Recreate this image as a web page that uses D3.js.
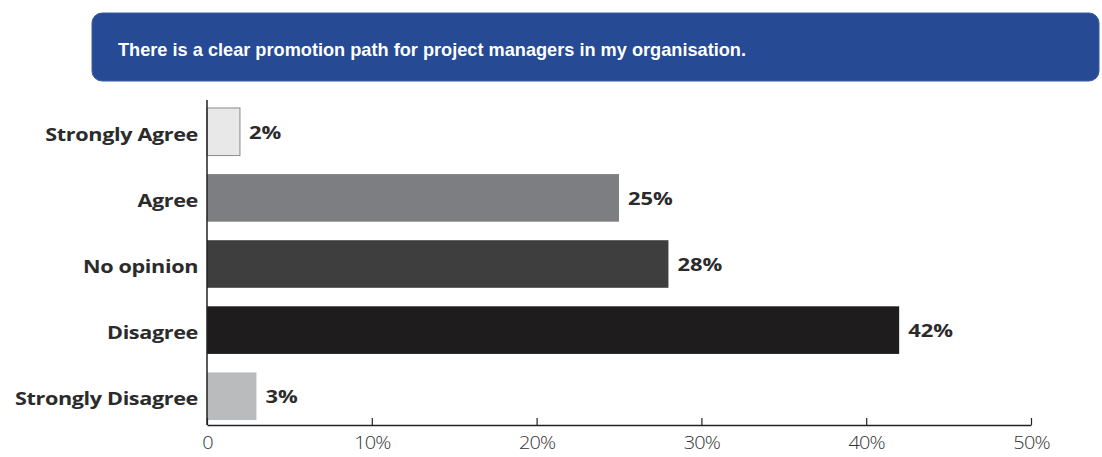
<!DOCTYPE html>
<html>
<head>
<meta charset="utf-8">
<script src="https://cdn.jsdelivr.net/npm/d3@7"></script>
<style>
  body { margin: 0; background: #fff; }
  svg { display: block; }
</style>
</head>
<body>
<div id="chart"></div>
<script>
const title = 'There is a clear promotion path for project managers in my organisation.';
const categories = ['Strongly Agree', 'Agree', 'No opinion', 'Disagree', 'Strongly Disagree'];
const values = [2, 25, 28, 42, 3];
const barColors = ['#e8e8e8', '#7c7e81', '#3e3e3e', '#1f1c1d', '#b9bbbd'];
const tickValues = [0, 10, 20, 30, 40, 50];
const tickLabels = ['0', '10%', '20%', '30%', '40%', '50%'];

const width = 1102, height = 457;
const margin = { left: 207, right: 71, top: 100, bottom: 32 };

const svg = d3.select('#chart').append('svg')
    .attr('width', width)
    .attr('height', height);

// Header banner
svg.append('rect')
    .attr('x', 92).attr('y', 13)
    .attr('width', 1007).attr('height', 68)
    .attr('rx', 10)
    .attr('fill', '#264a93')
    .attr('stroke', '#3a5ca4')
    .attr('stroke-width', 1);

svg.append('text')
    .attr('x', 118).attr('y', 56)
    .attr('fill', '#fff')
    .attr('font-family', 'Liberation Sans, Arial, sans-serif')
    .attr('font-weight', 'bold')
    .attr('font-size', 19)
    .attr('textLength', 628)
    .attr('lengthAdjust', 'spacingAndGlyphs')
    .text(title);

const x = d3.scaleLinear()
    .domain([0, 50])
    .range([margin.left, width - margin.right]);

const y = d3.scaleBand()
    .domain(categories)
    .range([104, 424])
    .paddingInner(0.28)
    .paddingOuter(0.06);

const g = svg.append('g');

// Bars
g.selectAll('.bar')
    .data(values)
    .enter()
    .append('rect')
    .attr('class', 'bar')
    .attr('x', x(0))
    .attr('y', (d, i) => y(categories[i]))
    .attr('width', d => x(d) - x(0))
    .attr('height', y.bandwidth())
    .attr('fill', (d, i) => barColors[i])
    .attr('stroke', (d, i) => i === 0 ? '#8a8a8a' : 'none')
    .attr('stroke-width', 1);

// Value labels (stretched a little wider, as in the source)
g.selectAll('.val')
    .data(values)
    .enter()
    .append('text')
    .attr('class', 'val')
    .attr('transform', (d, i) =>
        `translate(${x(d) + 9},${y(categories[i]) + y.bandwidth() / 2 + 7}) scale(1.22,1)`)
    .attr('fill', '#2b2b2b')
    .attr('font-family', 'Open Sans, sans-serif')
    .attr('font-weight', 'bold')
    .attr('font-size', 18)
    .text(d => d + '%');

// Category labels
g.selectAll('.cat')
    .data(categories)
    .enter()
    .append('text')
    .attr('class', 'cat')
    .attr('transform', d => `translate(198,${y(d) + y.bandwidth() / 2 + 9}) scale(1.2,1)`)
    .attr('text-anchor', 'end')
    .attr('fill', '#2b2b2b')
    .attr('font-family', 'Open Sans, sans-serif')
    .attr('font-weight', 'bold')
    .attr('font-size', 18)
    .attr('letter-spacing', -0.3)
    .text(d => d);

// Y axis line
svg.append('line')
    .attr('x1', x(0)).attr('x2', x(0))
    .attr('y1', 100).attr('y2', 425)
    .attr('stroke', '#222')
    .attr('stroke-width', 1.5);

// X axis with ticks pointing up
const xAxis = d3.axisBottom(x)
    .tickValues(tickValues)
    .tickFormat((d, i) => tickLabels[i])
    .tickSize(-7)
    .tickSizeOuter(0)
    .tickPadding(11);

const ax = svg.append('g')
    .attr('transform', 'translate(0,425)')
    .call(xAxis);

ax.select('.domain').attr('stroke', '#222').attr('stroke-width', 1.5);
ax.selectAll('.tick line').attr('stroke', '#222').attr('stroke-width', 1.2);
ax.selectAll('.tick text')
    .attr('fill', '#333')
    .attr('font-family', 'Open Sans, sans-serif')
    .attr('font-weight', 300)
    .attr('font-size', 19)
    .attr('letter-spacing', -0.8)
    .attr('transform', 'scale(1.05,1)');
</script>
</body>
</html>
